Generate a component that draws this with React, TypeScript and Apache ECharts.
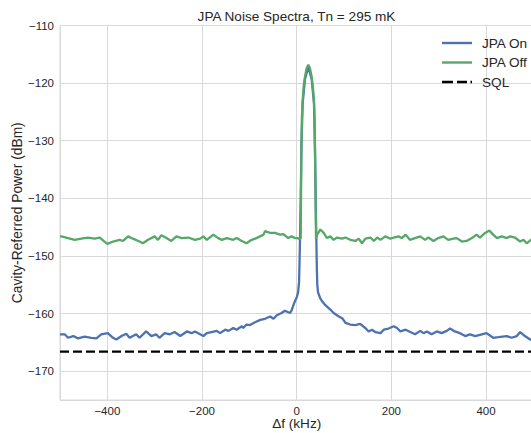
import React, { useEffect, useRef } from "react";
import * as echarts from "echarts";

const titleText = "JPA Noise Spectra, Tn = 295 mK";
const xAxisName = "Δf (kHz)";
const yAxisName = "Cavity-Referred Power (dBm)";
const seriesNames = ["JPA On", "JPA Off", "SQL"];
const seriesColors = ["#4C72B0", "#55A868", "#000000"];

// JPA Off (green)
const freqOff = [
  -500, -497, -483, -469, -455, -441, -427, -416, -406, -400, -388, -374, -367, -356, -346, -332,
  -325, -314, -300, -293, -286, -275, -265, -254, -243, -229, -215, -204, -197, -190, -176, -166,
  -158, -148, -134, -127, -116, -106, -95, -85, -70, -67, -56, -46, -35, -28, -18, -11, -4, 2, 6,
  8.5, 9.8, 11, 12.6, 15, 17.5, 21, 24.6, 28, 31.6, 34, 36.5, 37.7, 38.7, 39.8, 40.8,
  43, 47, 50, 57, 64, 71, 78, 85, 96, 103, 113, 124, 131, 138, 145, 156, 163, 170, 177, 187, 198,
  205, 215, 222, 230, 239, 250, 261, 271, 278, 289, 299, 310, 320, 331, 338, 349, 359, 370, 380,
  387, 398, 407, 415, 423, 433, 444, 451, 461, 472, 479, 486, 495, 500,
];
const powerOff = [
  -146.6, -146.6, -146.9, -147.2, -147.0, -146.8, -147.0, -146.8, -147.5, -147.9, -147.5, -147.2,
  -147.4, -146.6, -147.0, -147.5, -147.8, -147.2, -146.6, -147.2, -146.4, -146.9, -147.4, -146.6,
  -146.9, -146.8, -147.2, -147.0, -146.6, -147.2, -146.3, -146.9, -147.2, -146.9, -147.2, -146.9,
  -147.4, -147.8, -147.2, -146.9, -146.3, -145.7, -146.0, -146.0, -146.3, -146.2, -146.9, -146.6,
  -146.9, -146.9, -147.1,
  -146.9, -131.6, -126.0, -122.9, -120.3, -118.9, -117.4, -116.8, -117.4, -118.9, -120.5, -122.9,
  -126.0, -131.6, -139.0, -147.0,
  -146.3, -145.8, -145.4, -146.0, -146.9, -146.6, -147.2, -146.8, -147.0, -146.8, -147.2, -147.4,
  -147.0, -147.8, -147.0, -146.8, -147.4, -146.8, -147.2, -146.6, -147.0, -146.8, -146.6, -146.9,
  -146.3, -147.2, -146.9, -146.6, -147.2, -146.8, -147.4, -146.9, -146.6, -147.2, -147.0, -146.9,
  -147.5, -147.4, -146.9, -146.3, -146.8, -146.0, -145.6, -146.3, -146.9, -146.6, -146.9, -146.6,
  -146.8, -147.5, -147.2, -147.8, -147.2, -147.0,
];

// JPA On (blue)
const freqOn = [
  -500, -497, -490, -483, -472, -462, -448, -434, -423, -413, -399, -388, -381, -370, -360, -353,
  -339, -332, -318, -307, -297, -290, -279, -268, -258, -246, -232, -222, -215, -204, -197, -190,
  -180, -169, -162, -151, -144, -134, -127, -116, -113, -106, -99, -88, -77, -67, -56, -49, -42,
  -32, -25, -14, -11, -8, -4, 0, 3, 5, 6, 7, 8.5, 10, 12.6, 17.5, 24.6, 31.6, 36.5, 38.7, 40, 41.5,
  42.5, 43.5, 45, 50, 55, 60, 71, 78, 89, 96, 103, 113, 124, 134, 145, 152, 159, 166, 177, 184, 194,
  205, 212, 219, 230, 240, 250, 261, 268, 275, 285, 296, 306, 317, 324, 334, 345, 356, 366, 377,
  391, 401, 415, 426, 444, 454, 465, 472, 482, 493, 500,
];
const powerOn = [
  -163.6, -163.6, -163.6, -164.2, -163.9, -164.3, -164.0, -164.2, -164.3, -163.6, -163.4, -164.2,
  -164.5, -163.9, -163.5, -164.2, -163.6, -164.2, -163.1, -163.9, -163.6, -164.2, -163.4, -163.6,
  -163.2, -163.9, -163.1, -163.4, -163.1, -163.6, -163.9, -163.4, -163.2, -163.0, -163.4, -162.8,
  -163.0, -162.5, -162.8, -162.2, -162.5, -161.9, -162.0, -161.5, -161.1, -160.9, -160.5, -160.9,
  -160.3, -159.9, -159.5, -159.9, -159.5, -158.8, -157.9, -157.2, -156.3, -154.5, -151.0, -147.0,
  -140.0, -131.0, -123.5, -119.3, -117.2, -119.3, -123.5, -132.0, -140.0, -147.0, -152.0, -155.0,
  -156.3, -157.4, -158.0, -158.5, -159.3, -159.9, -160.5, -160.8, -161.6, -161.9, -162.0, -161.8,
  -162.5, -163.1, -162.8, -163.2, -163.4, -162.8, -162.6, -162.2, -162.5, -163.1, -162.8, -163.2,
  -163.6, -163.0, -163.4, -163.1, -163.6, -163.1, -163.4, -163.0, -162.6, -163.1, -163.4, -163.9,
  -163.6, -163.9, -163.6, -163.4, -164.2, -164.1, -163.9, -164.2, -163.9, -163.2, -163.9, -164.5,
  -164.6,
];

// SQL (dashed)
const freqSql = [-500, 500];
const powerSql = [-166.6, -166.6];

const xMin = -500;
const xMax = 500;
const yMin = -175;
const yMax = -110;

const FONT = "'Liberation Sans', Arial, Helvetica, sans-serif";
const TEXT = "#262626";
const GRID = "#d9d9d9";

const LINE_ICON = "path://M0,0H30V2.4H0Z";
const DASH_ICON = "path://M0,0H11V2.4H0Z M15,0H25V2.4H15Z M28.5,0H30V2.4H28.5Z";

const pairs = (xs: number[], ys: number[]) => xs.map((x, i) => [x, ys[i]]);
const fmt = (v: number) => String(v).replace("-", "\u2212");

export default function App() {
  const ref = useRef<HTMLDivElement>(null);
  useEffect(() => {
    if (!ref.current) return;
    const chart = echarts.init(ref.current, null, { renderer: "svg" });
    chart.setOption({
      animation: false,
      backgroundColor: "#ffffff",
      title: {
        text: titleText,
        left: 296.5,
        textAlign: "center",
        top: 9,
        padding: 0,
        textStyle: { fontFamily: FONT, fontSize: 13.6, fontWeight: "normal", color: TEXT },
      },
      legend: {
        data: [
          { name: seriesNames[0], icon: LINE_ICON },
          { name: seriesNames[1], icon: LINE_ICON },
          { name: seriesNames[2], icon: DASH_ICON },
        ],
        orient: "vertical",
        left: 442,
        top: 36,
        itemWidth: 30,
        itemHeight: 14,
        itemGap: 5.5,
        padding: 0,
        symbolKeepAspect: true,
        textStyle: { fontFamily: FONT, fontSize: 13.6, color: TEXT, padding: [0, 0, 0, 5] },
      },
      grid: {
        left: 60,
        top: 25.5,
        right: 560 - 533.4,
        bottom: 33,
        show: true,
        borderColor: GRID,
        borderWidth: 1,
        containLabel: false,
        outerBoundsMode: "none",
      },
      xAxis: {
        type: "value",
        min: xMin,
        max: xMax,
        splitNumber: 5,
        name: xAxisName,
        nameLocation: "middle",
        nameGap: 16.5,
        nameMoveOverlap: false,
        nameTextStyle: { fontFamily: FONT, fontSize: 13.6, lineHeight: 14, color: TEXT },
        axisLine: { show: false },
        axisTick: { show: false },
        axisLabel: {
          showMinLabel: false,
          showMaxLabel: false,
          margin: 4.5,
          lineHeight: 12,
          fontFamily: FONT,
          fontSize: 11.5,
          color: TEXT,
          formatter: (v: number) => fmt(v),
        },
        splitLine: { show: true, lineStyle: { color: GRID, width: 1 } },
      },
      yAxis: {
        type: "value",
        min: yMin,
        max: yMax,
        splitNumber: 7,
        name: yAxisName,
        nameLocation: "middle",
        nameRotate: 90,
        nameGap: 36,
        nameMoveOverlap: false,
        nameTextStyle: { fontFamily: FONT, fontSize: 13.8, color: TEXT },
        axisLine: { show: false },
        axisTick: { show: false },
        axisLabel: {
          showMinLabel: false,
          margin: 6,
          fontFamily: FONT,
          fontSize: 11.5,
          color: TEXT,
          formatter: (v: number) => fmt(v),
        },
        splitLine: { show: true, lineStyle: { color: GRID, width: 1 } },
      },
      series: [
        {
          name: seriesNames[0],
          type: "line",
          data: pairs(freqOn, powerOn),
          showSymbol: false,
          symbol: "none",
          color: seriesColors[0],
          lineStyle: { color: seriesColors[0], width: 2.3 },
        },
        {
          name: seriesNames[1],
          type: "line",
          data: pairs(freqOff, powerOff),
          showSymbol: false,
          symbol: "none",
          color: seriesColors[1],
          lineStyle: { color: seriesColors[1], width: 2.3 },
        },
        {
          name: seriesNames[2],
          type: "line",
          data: pairs(freqSql, powerSql),
          showSymbol: false,
          symbol: "none",
          color: seriesColors[2],
          lineStyle: { color: seriesColors[2], width: 2.3, type: [9, 4] },
        },
      ],
    });
    return () => chart.dispose();
  }, []);
  return (
    <div
      style={{
        position: "fixed",
        left: 0,
        top: 0,
        width: 531,
        height: 433,
        overflow: "hidden",
        background: "#fff",
      }}
    >
      <div ref={ref} style={{ width: 560, height: 433 }} />
    </div>
  );
}
